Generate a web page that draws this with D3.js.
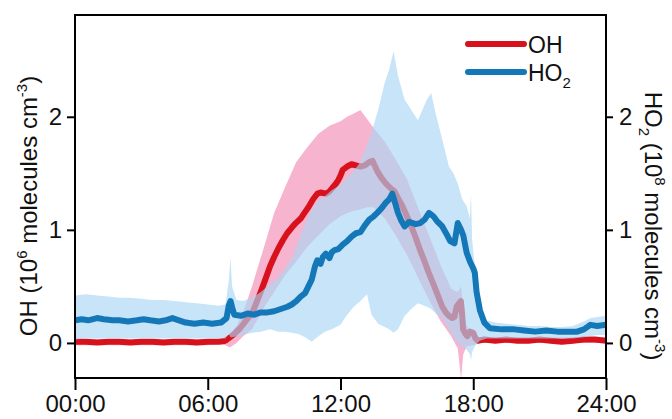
<!DOCTYPE html>
<html><head><meta charset="utf-8">
<script src="https://cdn.jsdelivr.net/npm/d3@7"></script>
<style>body{margin:0;background:#fff}svg{display:block}text{font-family:Arial,"Liberation Sans",sans-serif;fill:#111}</style>
</head><body><svg id="c" width="672" height="419"></svg>
<script>
// ---- data (hours of day, concentrations) ----
const xTickValues = [0, 6, 12, 18, 24];
const xTickLabels = ["00:00", "06:00", "12:00", "18:00", "24:00"];
const yTickValues = [0, 1, 2];

const ohTime = [0,0.5,1,1.5,2,2.5,3,3.5,4,4.5,5,5.5,6,6.5,6.8,7.0,7.2,7.46,7.7,8.04,8.25,8.43,8.6,8.82,9.0,9.2,9.4,9.59,9.8,9.98,10.2,10.37,10.55,10.76,10.95,11.1,11.34,11.5,11.63,11.8,11.9,12.0,12.1,12.3,12.5,12.7,12.9,13.1,13.3,13.45,13.66,13.85,14.05,14.25,14.44,14.6,14.8,15.0,15.2,15.4,15.6,15.8,15.99,16.2,16.4,16.6,16.76,16.9,17.05,17.15,17.25,17.35,17.44,17.5,17.54,17.65,17.73,17.85,18.0,18.1,18.2,18.5,19,19.5,20,20.5,21,21.5,22,22.5,23,23.5,24];
const ohValue = [0.01,0.01,0.005,0.01,0.01,0.005,0.01,0.01,0.005,0.01,0.01,0.005,0.01,0.01,0.02,0.05,0.08,0.13,0.19,0.28,0.38,0.47,0.56,0.68,0.76,0.84,0.91,0.97,1.02,1.06,1.10,1.15,1.20,1.27,1.32,1.33,1.32,1.34,1.37,1.41,1.44,1.48,1.53,1.56,1.58,1.57,1.56,1.57,1.60,1.61,1.52,1.46,1.41,1.37,1.34,1.28,1.21,1.12,1.03,0.93,0.82,0.72,0.62,0.52,0.42,0.32,0.27,0.24,0.22,0.23,0.32,0.35,0.37,0.25,0.12,0.08,0.06,0.10,0.09,0.04,0.02,0.03,0.02,0.03,0.02,0.02,0.03,0.02,0.01,0.02,0.03,0.03,0.02];

const ohBandTime = [0,3,6,6.5,6.8,7,7.3,7.6,8,8.5,9,9.5,10,10.5,11,11.5,12,12.3,12.6,12.9,13.2,13.5,14,14.5,15,15.5,16,16.5,17,17.3,17.45,17.55,17.7,18,18.3,21,24];
const ohUpper = [0.03,0.03,0.03,0.03,0.05,0.08,0.15,0.27,0.5,0.82,1.15,1.38,1.6,1.73,1.85,1.92,1.96,2.0,2.03,2.06,1.98,1.9,1.78,1.62,1.45,1.2,0.95,0.7,0.48,0.45,0.5,0.3,0.15,0.08,0.05,0.05,0.05];
const ohLower = [-0.02,-0.02,-0.02,-0.01,-0.02,-0.04,0.0,0.06,0.12,0.3,0.45,0.6,0.72,0.85,0.95,1.05,1.12,1.15,1.17,1.18,1.2,1.2,1.1,0.95,0.78,0.58,0.38,0.2,0.06,-0.05,-0.32,-0.1,-0.03,-0.02,0.0,0.0,0.0];

const ho2Time = [0,0.3,0.6,1.0,1.3,1.7,2.0,2.4,2.8,3.1,3.4,3.8,4.1,4.4,4.7,5.0,5.4,5.8,6.2,6.6,6.85,6.95,7.03,7.12,7.2,7.5,7.8,8.1,8.4,8.7,9.0,9.3,9.6,9.8,10.0,10.2,10.4,10.55,10.7,10.85,10.95,11.1,11.2,11.34,11.5,11.6,11.73,11.9,12.1,12.3,12.5,12.7,12.9,13.1,13.3,13.5,13.66,13.85,14.05,14.2,14.34,14.45,14.6,14.75,14.9,15.1,15.4,15.6,15.8,16.0,16.2,16.35,16.6,16.8,16.96,17.15,17.3,17.45,17.55,17.7,17.85,18.0,18.07,18.15,18.3,18.5,18.75,19.3,19.86,20.3,20.8,21.3,21.8,22.3,22.7,23.0,23.3,23.6,24];
const ho2Value = [0.20,0.21,0.20,0.22,0.21,0.20,0.20,0.19,0.20,0.21,0.20,0.19,0.20,0.22,0.20,0.18,0.17,0.18,0.17,0.18,0.22,0.33,0.37,0.30,0.25,0.24,0.26,0.25,0.27,0.27,0.28,0.30,0.32,0.34,0.37,0.41,0.44,0.50,0.56,0.68,0.73,0.70,0.76,0.79,0.75,0.80,0.82,0.83,0.87,0.90,0.94,0.97,0.98,1.04,1.09,1.12,1.15,1.19,1.24,1.27,1.32,1.25,1.15,1.08,1.03,1.07,1.05,1.06,1.09,1.15,1.12,1.08,1.03,0.96,0.90,0.88,1.06,1.00,0.95,0.80,0.72,0.66,0.62,0.45,0.29,0.18,0.13,0.12,0.12,0.11,0.10,0.11,0.10,0.10,0.10,0.12,0.16,0.15,0.16];

const ho2BandTime = [0,0.5,1,1.5,2,2.5,3,3.5,4,4.5,5,5.5,6,6.5,6.8,6.95,7.03,7.1,7.3,7.6,8,8.4,8.8,9.2,9.5,9.8,10.1,10.4,10.7,11,11.3,11.6,12,12.3,12.6,12.9,13.2,13.4,13.7,14.0,14.2,14.4,14.6,14.9,15.2,15.5,15.9,16.1,16.3,16.6,16.9,17.1,17.3,17.5,17.7,17.85,17.9,17.95,18.1,18.3,18.6,19,19.5,20,20.5,21,21.5,22,22.5,23,23.3,23.6,24];
const ho2Upper = [0.42,0.43,0.42,0.41,0.40,0.40,0.39,0.38,0.38,0.37,0.36,0.35,0.34,0.33,0.34,0.55,0.76,0.50,0.38,0.37,0.40,0.45,0.52,0.58,0.66,0.75,0.90,1.05,1.18,1.26,1.30,1.35,1.40,1.46,1.52,1.60,1.75,1.86,2.06,2.30,2.42,2.58,2.36,2.15,2.06,1.97,2.15,2.21,2.03,1.80,1.56,1.50,1.41,1.27,1.21,1.10,1.32,0.91,0.62,0.32,0.20,0.18,0.17,0.16,0.15,0.15,0.14,0.14,0.15,0.19,0.22,0.23,0.24];
const ho2Lower = [0.03,0.04,0.04,0.04,0.04,0.04,0.04,0.04,0.04,0.04,0.04,0.04,0.04,0.04,0.04,0.08,0.05,0.05,0.06,0.07,0.09,0.10,0.12,0.10,0.10,0.09,0.08,0.05,0.01,0.06,0.10,0.12,0.16,0.25,0.32,0.37,0.43,0.25,0.17,0.14,0.12,0.09,0.12,0.24,0.30,0.35,0.32,0.30,0.26,0.22,0.12,0.06,0.00,-0.03,-0.06,-0.10,-0.15,-0.08,-0.02,0.02,0.04,0.04,0.04,0.04,0.04,0.04,0.04,0.04,0.04,0.05,0.06,0.07,0.07];

// ---- layout ----
const svg = d3.select("#c");
const L = 75, R = 606, T = 15, B = 378;
const x = d3.scaleLinear().domain([0, 24]).range([L, R]);
const y = d3.scaleLinear().domain([-0.31, 2.9]).range([B, T]);

const zip = (t, v) => t.map((d, i) => [d, v[i]]);
const zip3 = (t, a, b) => t.map((d, i) => [d, a[i], b[i]]);

svg.append("clipPath").attr("id", "clip").append("rect")
  .attr("x", L).attr("y", T).attr("width", R - L).attr("height", B - T);
const g = svg.append("g").attr("clip-path", "url(#clip)");

const area = d3.area().x(d => x(d[0])).y0(d => y(d[2])).y1(d => y(d[1]));
const line = d3.line().x(d => x(d[0])).y(d => y(d[1]));

g.append("path").datum(zip3(ohBandTime, ohUpper, ohLower)).attr("d", area)
  .attr("fill", "rgb(247,180,206)");
g.append("path").datum(zip(ohTime, ohValue)).attr("d", line)
  .attr("fill", "none").attr("stroke", "#d8121c").attr("stroke-width", 6)
  .attr("stroke-linejoin", "round");
g.append("path").datum(zip3(ho2BandTime, ho2Upper, ho2Lower)).attr("d", area)
  .attr("fill", "rgb(170,214,245)").attr("fill-opacity", 0.65);
g.append("path").datum(zip(ho2Time, ho2Value)).attr("d", line)
  .attr("fill", "none").attr("stroke", "#1478b8").attr("stroke-width", 6)
  .attr("stroke-linejoin", "round");

// ---- axes ----
const fs = 24;
const xAxis = svg.append("g").attr("transform", `translate(0,${B})`)
  .call(d3.axisBottom(x).tickValues(xTickValues).tickFormat((d, i) => xTickLabels[i])
    .tickSize(12).tickPadding(5).tickSizeOuter(0));
const yAxisL = svg.append("g").attr("transform", `translate(${L},0)`)
  .call(d3.axisLeft(y).tickValues(yTickValues).tickFormat(d3.format("d")).tickSize(8).tickPadding(5).tickSizeOuter(0));
const yAxisR = svg.append("g").attr("transform", `translate(${R},0)`)
  .call(d3.axisRight(y).tickValues(yTickValues).tickFormat(d3.format("d")).tickSize(7).tickPadding(6).tickSizeOuter(0));
[xAxis, yAxisL, yAxisR].forEach(a => {
  a.select(".domain").remove();
  a.selectAll("line").attr("stroke", "#000").attr("stroke-width", 2);
  a.selectAll("text").attr("font-size", fs).attr("fill", "#111")
    .attr("font-family", "Arial, 'Liberation Sans', sans-serif");
});
svg.append("rect").attr("x", L).attr("y", T).attr("width", R - L).attr("height", B - T)
  .attr("fill", "none").attr("stroke", "#000").attr("stroke-width", 2);

// ---- axis titles ----
const tl = svg.append("text").attr("transform", "translate(37,206) rotate(-90)")
  .attr("text-anchor", "middle").attr("font-size", 24);
tl.append("tspan").text("OH (10");
tl.append("tspan").attr("font-size", 15).attr("dy", -10).text("6");
tl.append("tspan").attr("dy", 10).text(" molecules cm");
tl.append("tspan").attr("font-size", 15).attr("dy", -10).text("-3");
tl.append("tspan").attr("dy", 10).text(")");

const tr = svg.append("text").attr("transform", "translate(645,226) rotate(90)")
  .attr("text-anchor", "middle").attr("font-size", 24);
tr.append("tspan").text("HO");
tr.append("tspan").attr("font-size", 15).attr("dy", 6).text("2");
tr.append("tspan").attr("dy", -6).text(" (10");
tr.append("tspan").attr("font-size", 15).attr("dy", -10).text("8");
tr.append("tspan").attr("dy", 10).text(" molecules cm");
tr.append("tspan").attr("font-size", 15).attr("dy", -10).text("-3");
tr.append("tspan").attr("dy", 10).text(")");

// ---- legend ----
const legend = [
  { name: "OH", color: "#d8121c", y: 44 },
  { name: "HO", sub: "2", color: "#1478b8", y: 72 }
];
legend.forEach(d => {
  svg.append("line").attr("x1", 468).attr("x2", 524).attr("y1", d.y).attr("y2", d.y)
    .attr("stroke", d.color).attr("stroke-width", 6).attr("stroke-linecap", "round");
  const t = svg.append("text").attr("x", 528).attr("y", d.y + 8.5).attr("font-size", 23);
  t.append("tspan").text(d.name);
  if (d.sub) t.append("tspan").attr("font-size", 15).attr("dy", 7).text(d.sub);
});
</script></body></html>
